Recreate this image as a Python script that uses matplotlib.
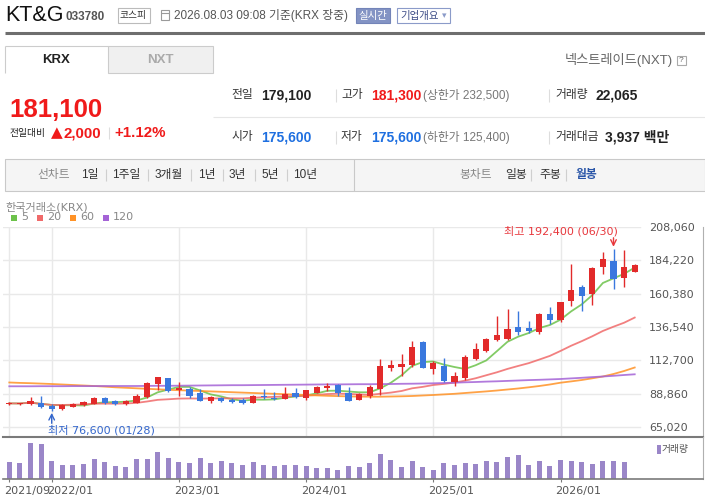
import numpy as np
import pandas as pd
from matplotlib import pyplot as plt
from matplotlib import patches
from matplotlib.transforms import ScaledTranslation

plt.rcParams['font.family'] = ['Liberation Sans', 'Noto Sans CJK KR', 'DejaVu Sans']

# monthly candles, 2021/09 .. 2026/08 (KRX, won)
months = [p.strftime('%Y/%m') for p in pd.period_range('2021-09', '2026-08', freq='M')]
opens = [81500, 81400, 81800, 82200, 80300, 77900, 79500, 80500, 81700, 85500,
         83600, 81300, 82400, 86500, 95800, 100100, 91500, 92200, 89100, 83800,
         85800, 84500, 84100, 82500, 87400, 86000, 85300, 89300, 86000, 89600,
         92700, 95100, 89300, 84300, 87200, 92000, 107400, 108100, 109400, 126000,
         106300, 108600, 97000, 100100, 113900, 119200, 127200, 128200, 136500, 135800,
         132800, 145600, 141800, 155400, 164900, 160400, 179700, 183700, 171400, 175600]
highs = [82600, 82300, 86800, 87200, 81500, 81500, 82200, 83600, 86500, 86700,
         84000, 84000, 88400, 97200, 101100, 100400, 97200, 93600, 92200, 87500,
         86700, 85800, 85800, 87900, 92200, 90000, 93400, 92700, 91500, 94300,
         96700, 95700, 93400, 89000, 94800, 113700, 113200, 117000, 126500, 126500,
         112200, 114400, 104400, 116500, 125300, 128900, 144600, 149200, 148000, 140800,
         146600, 151100, 154400, 181400, 166400, 179700, 190200, 192400, 191400, 181300]
lows = [80800, 80600, 80700, 78600, 76600, 77500, 79000, 80200, 81500, 81800,
        80400, 81000, 82200, 86100, 91500, 89800, 87200, 85800, 83300, 82200,
        82900, 82000, 81300, 82400, 85000, 84300, 85000, 85500, 84000, 89300,
        90600, 87400, 83600, 84000, 86000, 87700, 105100, 101500, 107700, 106900,
        102700, 97200, 94600, 98600, 112900, 118700, 126200, 127600, 130800, 132200,
        131700, 138700, 140300, 151600, 147800, 152300, 174200, 163900, 165400, 175600]
closes = [81900, 81800, 83600, 79000, 77700, 80800, 81700, 82900, 85800, 82200,
          81300, 83400, 87200, 96500, 100800, 91100, 92900, 87200, 83800, 86700,
          83800, 82700, 82200, 87500, 86500, 85000, 88600, 86700, 91300, 93600,
          94300, 89100, 83800, 88400, 93600, 108600, 109100, 110100, 122200, 107200,
          110800, 97900, 101500, 115100, 120800, 127900, 131000, 135100, 133200, 133900,
          145800, 141800, 154200, 162800, 158900, 178900, 185400, 170600, 179100, 181100]
# thousand shares
volumes = [3180, 3000, 6600, 6420, 3360, 2580, 2580, 2820, 3660, 3180,
           2400, 2220, 3660, 3660, 4980, 3840, 3180, 3000, 3840, 3000,
           3360, 3000, 2580, 3180, 2580, 2400, 2580, 2580, 2400, 2040,
           2040, 1680, 2400, 2220, 2940, 4560, 3480, 2220, 3300, 2220,
           1680, 2940, 2580, 2940, 2760, 3300, 3120, 4020, 4380, 2580,
           3300, 2400, 3480, 3300, 3120, 2760, 3300, 3300, 3120, 22]
# long moving averages (history before 2021/09 not shown)
ma60_values = [96850, 96560, 96350, 96060, 95770, 95420, 95060, 94700, 94340, 93910,
               93410, 93060, 92700, 92340, 91980, 91630, 91340, 91050, 90770, 90480,
               90200, 89910, 89620, 89340, 89050, 88760, 88480, 88190, 87910, 87620,
               87330, 87120, 86910, 86760, 86690, 86690, 86830, 86980, 87190, 87550,
               87910, 88340, 88760, 89340, 89910, 90480, 91120, 91840, 92560, 93410,
               94340, 95420, 96700, 97630, 98630, 99850, 101140, 102930, 105070, 107570]
ma120_values = [94130, 94130, 94130, 94200, 94200, 94200, 94270, 94270, 94270, 94340,
                94340, 94340, 94340, 94420, 94490, 94490, 94560, 94630, 94700, 94770,
                94840, 94920, 94920, 94990, 95060, 95130, 95200, 95270, 95340, 95420,
                95490, 95490, 95560, 95630, 95630, 95700, 95770, 95920, 95990, 96130,
                96270, 96490, 96700, 96990, 97200, 97490, 97700, 97990, 98280, 98560,
                98780, 99060, 99350, 99780, 100210, 100710, 101140, 101640, 102210, 102710]

tick_months = ['2021/09', '2022/01', '2023/01', '2024/01', '2025/01', '2026/01']
price_levels = [65020, 88860, 112700, 136540, 160380, 184220, 208060]
ma_periods = ['5', '20', '60', '120']
ma_colors = ['#6cc24a', '#f06a6a', '#ff9226', '#a463d6']

RED = '#e22a2a'
BLUE = '#3a78de'
VOL = '#9a86c8'
W, H = 705, 501

fig = plt.figure(figsize=(W / 100, H / 100), dpi=100)
bg = fig.add_axes([0, 0, 1, 1])
bg.set_xlim(0, W)
bg.set_ylim(H, 0)
bg.axis('off')


def px_axes(x0, y0, x1, y1):
    ax = fig.add_axes([x0 / W, 1 - y1 / H, (x1 - x0) / W, (y1 - y0) / H])
    ax.set_facecolor('none')
    return ax


def txt(x, y, s, size=8.5, color='#333', weight='normal', ha='left', family=None, va='center'):
    kw = {} if family is None else {'family': family}
    bg.text(x, y, s, fontsize=size, color=color, fontweight=weight, ha=ha, va=va, **kw)


def line(xs, ys, color='#ddd', lw=0.8):
    bg.plot(xs, ys, color=color, lw=lw, solid_capstyle='butt')


chart_font = ['DejaVu Sans', 'Noto Sans CJK KR']

# ---- header
txt(5, 21, 'KT&G', size=15.5, color='#111', va='baseline')
txt(66, 20, '033780', size=8.5, color='#555', weight='bold', va='baseline')
bg.add_patch(patches.Rectangle((117.5, 7.5), 32, 15, fc='white', ec='#bbbbbb', lw=0.8))
txt(133.5, 15.2, '코스피', size=7, color='#333', ha='center')
bg.add_patch(patches.Rectangle((161, 10), 8, 10, fc='none', ec='#9a9a9a', lw=0.8))
line([161, 169], [12.5, 12.5], '#9a9a9a', 0.8)
txt(174, 15, '2026.08.03 09:08 기준(KRX 장중)', size=8.5, color='#555')
bg.add_patch(patches.Rectangle((355.5, 8), 34, 15, fc='#8393c4', ec='#7384b8', lw=0.8))
txt(372.5, 15.5, '실시간', size=7.5, color='white', ha='center')
bg.add_patch(patches.Rectangle((396.5, 8), 53, 15, fc='white', ec='#8b9bc9', lw=0.8))
txt(400, 15.5, '기업개요', size=7.5, color='#3d4c86')
txt(444, 15.5, '▾', size=6.5, color='#8b9bc9', ha='center', family='DejaVu Sans')
line([4.5, W], [33.3, 33.3], '#6e6e6e', 2.2)

# ---- market tabs
line([4.5, 108], [46.3, 46.3], '#cccccc')
line([4.5, 4.5], [46.3, 73.3], '#cccccc')
bg.add_patch(patches.Rectangle((108, 46.3), 105, 27, fc='#f0f0f0', ec='#cccccc', lw=0.8))
txt(56, 59.5, 'KRX', size=9.5, color='#222', weight='bold', ha='center')
txt(160.5, 59.5, 'NXT', size=9.5, color='#aaaaaa', weight='bold', ha='center')
txt(673, 60, '넥스트레이드(NXT)', size=9.5, color='#666', ha='right')
bg.add_patch(patches.Rectangle((677, 55.5), 9, 9, fc='white', ec='#aaaaaa', lw=0.8))
txt(681.5, 60.2, '?', size=6, color='#666', ha='center')

# ---- current price block
txt(9, 117, '181,100', size=18.5, color='#f01a1a', weight='bold', va='baseline')
txt(10, 133, '전일대비', size=7, color='#222')
txt(56.5, 133, '▲', size=11, color='#f01a1a', ha='center', family='DejaVu Sans')
txt(64, 133, '2,000', size=10.8, color='#f01a1a', weight='bold')
line([108.5, 108.5], [127, 139])
txt(114, 133, '+1.12%', size=10.8, color='#f01a1a', weight='bold')

line([213, W], [116.5, 116.5], '#e6e6e6')
rows = [
    (95, [('전일', '179,100', '#222', ''), ('고가', '181,300', '#f01a1a', '(상한가 232,500)'),
          ('거래량', '22,065', '#222', '')]),
    (137, [('시가', '175,600', '#1e6fe0', ''), ('저가', '175,600', '#1e6fe0', '(하한가 125,400)'),
           ('거래대금', '3,937 백만', '#222', '')]),
]
col_x = [(231, 261), (341, 371), (555, 595)]
for y, cells in rows:
    for k, (label, value, vcol, extra) in enumerate(cells):
        lx, vx = col_x[k]
        if label == '거래대금':
            vx = 605
        txt(lx, y, label, size=8.5, color='#333')
        txt(vx, y, value, size=10, color=vcol, weight='bold')
        if extra:
            txt(423, y, extra, size=8.5, color='#777')
    for sx in (335.5, 548.5):
        line([sx, sx], [y - 6.5, y + 6.5])

# ---- chart type bar
bg.add_patch(patches.Rectangle((4.5, 159.3), 700.5, 31.2, fc='#f5f5f5', ec='#c9c9c9', lw=0.8))
line([354, 354], [159.3, 190.5], '#c9c9c9')
txt(37, 175, '선차트', size=8.5, color='#888')
for x, s in zip([81, 112, 155, 198, 229, 261, 293],
                ['1일', '1주일', '3개월', '1년', '3년', '5년', '10년']):
    txt(x, 175, s, size=8.5, color='#333')
for sx in [106, 148, 191, 223, 255, 287, 531, 566]:
    line([sx, sx], [169, 181], '#cfcfcf')
txt(459, 175, '봉차트', size=8.5, color='#888')
txt(505, 175, '일봉', size=8.5, color='#333')
txt(539, 175, '주봉', size=8.5, color='#333')
txt(575, 175, '월봉', size=8.5, color='#2a56a8', weight='bold')

# ---- chart title and legend
txt(5, 207.5, '한국거래소(KRX)', size=8, color='#888', family=chart_font)
for sq, lab, color in zip([11, 37, 70, 103], ma_periods, ma_colors):
    bg.add_patch(patches.Rectangle((sq, 214.5), 6, 6, fc=color, ec='none'))
    txt(sq + 10, 217.5, lab, size=8, color='#888', family=chart_font)

# ---- price panel
ax = px_axes(3, 227, 703, 437)
x = np.arange(len(closes))
x_lo = -(9.3 - 3) / 10.6
ax.set_xlim(x_lo, x_lo + 700 / 10.6)
ax.set_ylim(57868, 208060)

for lv in price_levels:
    ax.axhline(lv, xmax=0.91, color='#e9e9e9', lw=1, zorder=0)
tick_idx = [months.index(m) for m in tick_months]
for t in tick_idx:
    ax.axvline(t, color='#e9e9e9', lw=1, zorder=0)

close_s = pd.Series(closes, dtype=float)
ma_lines = [close_s.rolling(5, min_periods=1).mean(), close_s.rolling(20, min_periods=1).mean(),
            ma60_values, ma120_values]
for vals, color in zip(ma_lines, ma_colors):
    ax.plot(x, vals, color=color, lw=1.3, alpha=0.85, zorder=2)

o, hi, lo, c = (np.array(a, dtype=float) for a in (opens, highs, lows, closes))
colors = np.where(c >= o, RED, BLUE)
ax.vlines(x, lo, hi, colors=colors, lw=1, zorder=3)
body = np.maximum(np.abs(c - o), 700)
ax.bar(x, body, bottom=np.minimum(o, c), width=0.58, color=colors, lw=0, zorder=4)

ax.set_yticks(price_levels)
ax.set_yticklabels([f'{v:,}' for v in price_levels], family=chart_font)
ax.tick_params(axis='y', left=False, labelleft=False, right=False, labelright=True,
               pad=-42.5, labelsize=8, labelcolor='#555')
ax.tick_params(axis='x', bottom=False, labelbottom=False)
for side in ('top', 'left'):
    ax.spines[side].set_visible(False)
ax.spines['bottom'].set_color('#7a7a7a')
ax.spines['bottom'].set_linewidth(1.5)
ax.spines['right'].set_color('#b0b0b0')

imax = int(np.argmax(hi))
imin = int(np.argmin(lo))
ax.annotate('', xy=(imax, hi[imax]), xytext=(0, 8), textcoords='offset points',
            arrowprops=dict(arrowstyle='->', color='#e8383d', lw=1, shrinkA=0, shrinkB=1.5))
ax.annotate(f'최고 {int(hi[imax]):,} (06/30)', xy=(imax, hi[imax]), xytext=(3, 13),
            textcoords='offset points', ha='right', va='center', fontsize=8,
            color='#e8383d', family=chart_font)
ax.annotate('', xy=(imin, lo[imin]), xytext=(0, -9), textcoords='offset points',
            arrowprops=dict(arrowstyle='->', color='#3366cc', lw=1, shrinkA=0, shrinkB=1.5))
ax.annotate(f'최저 {int(lo[imin]):,} (01/28)', xy=(imin, lo[imin]), xytext=(-2.5, -14),
            textcoords='offset points', ha='left', va='center', fontsize=8,
            color='#3366cc', family=chart_font)

# ---- volume panel
axv = px_axes(3, 437, 703, 479.3)
axv.set_xlim(ax.get_xlim())
axv.set_ylim(0, 7614)
axv.bar(x, volumes, width=0.47, color=VOL, lw=0)
axv.set_yticks([])
axv.set_xticks(tick_idx)
axv.set_xticklabels(tick_months, family=chart_font)
axv.tick_params(axis='x', length=2.5, color='#7a7a7a', labelsize=8, labelcolor='#555', pad=2.5)
shift = ScaledTranslation(-5 / 100, 0, fig.dpi_scale_trans)
for lbl in axv.get_xticklabels():
    lbl.set_ha('left')
    lbl.set_transform(lbl.get_transform() + shift)
for side in ('top', 'left'):
    axv.spines[side].set_visible(False)
axv.spines['bottom'].set_color('#7a7a7a')
axv.spines['bottom'].set_linewidth(1.2)
axv.spines['right'].set_color('#b0b0b0')

bg.add_patch(patches.Rectangle((657, 444.5), 3.5, 9, fc=VOL, ec='none'))
txt(661.5, 449, '거래량', size=7, color='#555')

fig.savefig('out.png', dpi=100)
